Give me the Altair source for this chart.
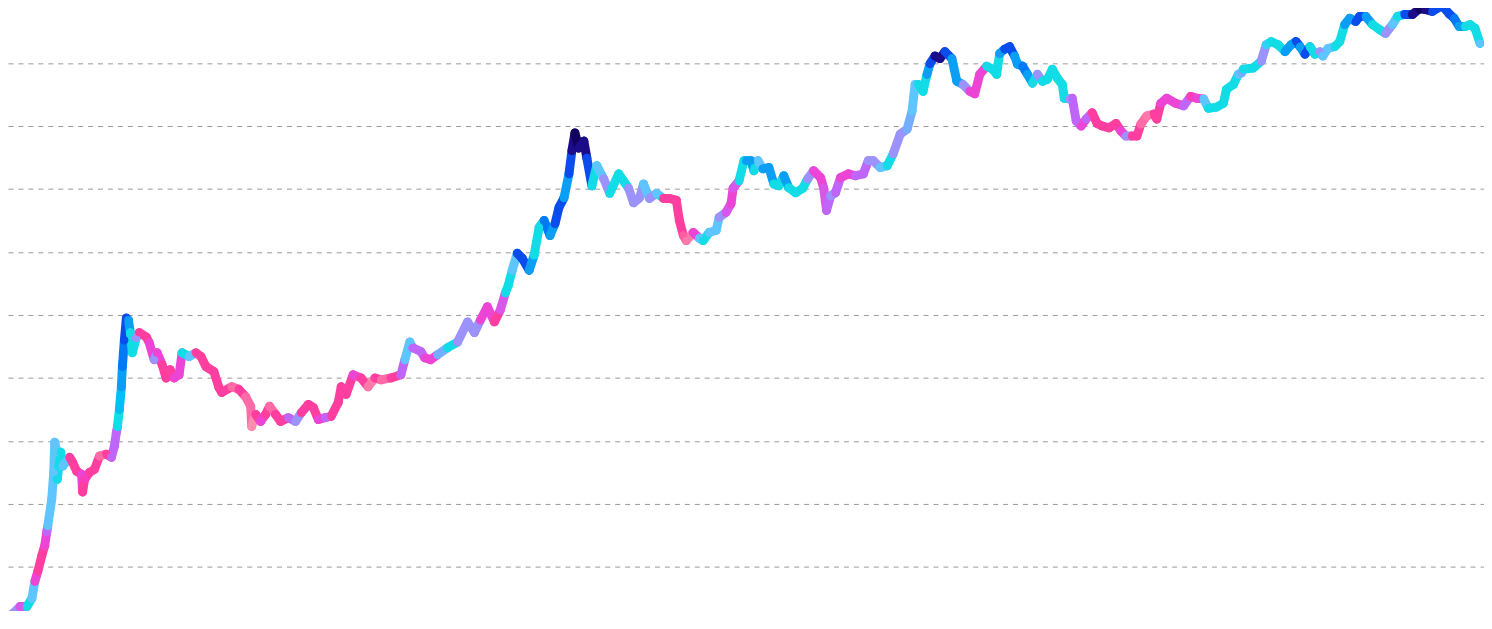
import altair as alt
import pandas as pd

# time index (horizontal position units) of each reading
t = [0, 7, 13, 20, 27, 32, 35, 38, 42, 45, 47, 48, 52, 54, 55, 57, 57.5, 61, 63, 70,
     73, 77, 82, 83, 85, 90, 95, 100, 107, 112, 115, 117, 118, 120, 122, 123, 125, 127, 129, 131,
     133, 137, 140, 147, 150, 155, 158, 163, 167, 171, 175, 180, 183, 190, 197, 202, 207, 215, 220, 223,
     233, 240, 247, 252, 253, 257, 262, 267, 271, 277, 282, 290, 297, 303, 310, 315, 320, 327, 333, 340,
     343, 348, 355, 363, 370, 377, 383, 393, 403, 407, 412, 415, 423, 427, 433, 440, 450, 460, 470, 477,
     483, 490, 497, 503, 508, 511, 515, 520, 525, 532, 537, 542, 547, 553, 558, 562, 567, 572, 575, 578,
     582, 587, 590, 595, 600, 607, 613, 622, 632, 637, 643, 647, 653, 660, 667, 673, 680, 683, 687, 690,
     697, 703, 707, 713, 720, 723, 730, 735, 737, 743, 748, 750, 755, 758, 762, 767, 773, 778, 783, 788,
     793, 800, 807, 812, 818, 825, 828, 831, 835, 840, 845, 853, 860, 868, 873, 878, 885, 892, 898, 905,
     912, 917, 920, 923, 928, 932, 935, 940, 945, 950, 957, 962, 968, 975, 980, 985, 992, 998, 1002, 1005,
     1010, 1015, 1020, 1023, 1028, 1033, 1038, 1043, 1048, 1053, 1058, 1063, 1068, 1070, 1075, 1078, 1082, 1087, 1092, 1098,
     1103, 1108, 1115, 1122, 1127, 1132, 1138, 1143, 1147, 1153, 1160, 1163, 1167, 1173, 1182, 1190, 1197, 1203, 1210, 1215,
     1223, 1230, 1233, 1240, 1245, 1248, 1250, 1260, 1268, 1273, 1278, 1285, 1292, 1298, 1303, 1307, 1312, 1317, 1322, 1327,
     1330, 1335, 1342, 1347, 1352, 1357, 1363, 1367, 1373, 1380, 1387, 1393, 1400, 1405, 1412, 1420, 1427, 1433, 1440, 1450,
     1457, 1462, 1467, 1473, 1478, 1483, 1488]

# level readings (one unit = one grid line step)
v = [-0.69, -0.86, -0.74, -0.63, -0.63, -0.50, -0.23, -0.07, 0.18, 0.34, 0.56, 0.65, 1.08, 1.50, 1.98, 1.82, 1.39, 1.82, 1.60, 1.74,
     1.66, 1.52, 1.47, 1.19, 1.39, 1.50, 1.55, 1.76, 1.79, 1.74, 1.92, 2.14, 2.22, 2.50, 2.86, 3.18, 3.60, 3.95, 3.92, 3.72,
     3.40, 3.64, 3.72, 3.65, 3.56, 3.29, 3.40, 3.21, 3.00, 3.13, 3.00, 3.05, 3.40, 3.34, 3.40, 3.34, 3.18, 3.10, 2.85, 2.77,
     2.86, 2.82, 2.70, 2.55, 2.23, 2.42, 2.31, 2.42, 2.55, 2.42, 2.31, 2.37, 2.31, 2.45, 2.58, 2.53, 2.34, 2.37, 2.39, 2.61,
     2.86, 2.74, 3.05, 3.00, 2.86, 3.00, 2.97, 3.00, 3.05, 3.29, 3.57, 3.48, 3.42, 3.32, 3.29, 3.37, 3.48, 3.57, 3.89, 3.72,
     3.92, 4.13, 3.89, 4.08, 4.35, 4.47, 4.71, 4.98, 4.90, 4.71, 4.95, 5.39, 5.50, 5.26, 5.45, 5.71, 5.86, 6.24, 6.61, 6.89,
     6.65, 6.76, 6.49, 6.05, 6.37, 6.16, 5.93, 6.24, 6.01, 5.78, 5.86, 6.08, 5.85, 5.93, 5.85, 5.85, 5.82, 5.50, 5.26, 5.18,
     5.31, 5.22, 5.18, 5.31, 5.34, 5.55, 5.63, 5.77, 6.01, 6.13, 6.45, 6.45, 6.45, 6.29, 6.45, 6.32, 6.34, 6.08, 6.05, 6.21,
     6.02, 5.94, 6.01, 6.16, 6.29, 6.18, 6.02, 5.66, 5.89, 5.94, 6.18, 6.24, 6.21, 6.24, 6.45, 6.45, 6.34, 6.37, 6.56, 6.87,
     6.95, 7.24, 7.66, 7.66, 7.55, 7.82, 7.99, 8.11, 8.07, 8.18, 8.07, 7.71, 7.66, 7.55, 7.51, 7.82, 7.95, 7.90, 7.82, 8.15,
     8.22, 8.26, 8.11, 7.98, 7.95, 7.82, 7.68, 7.82, 7.71, 7.74, 7.90, 7.76, 7.66, 7.44, 7.43, 7.44, 7.08, 7.00, 7.11, 7.21,
     7.04, 7.00, 6.97, 7.04, 6.92, 6.84, 6.84, 6.84, 7.03, 7.16, 7.19, 7.11, 7.36, 7.44, 7.36, 7.32, 7.47, 7.44, 7.43, 7.28,
     7.30, 7.36, 7.58, 7.66, 7.82, 7.84, 7.90, 7.92, 8.03, 8.29, 8.34, 8.29, 8.18, 8.29, 8.34, 8.26, 8.14, 8.26, 8.14, 8.18,
     8.11, 8.23, 8.26, 8.34, 8.61, 8.71, 8.66, 8.74, 8.74, 8.61, 8.53, 8.47, 8.61, 8.74, 8.77, 8.77, 8.86, 8.85, 8.82, 8.91,
     8.78, 8.71, 8.58, 8.58, 8.61, 8.55, 8.31]

# colour metric readings (0 = light pink ... 9 = deep navy)
c = [5, 4, 4, 2.5, 6, 5, 2, 1, 1, 2, 3, 5, 5, 5, 5, 5, 6, 6, 5, 1,
     1, 1, 2, 1, 1.5, 1, 1, 0.5, 1, 3, 3, 3, 6, 6.5, 7, 7.5, 8, 8, 7, 6,
     6, 4, 1, 1, 2, 4, 2, 1, 1, 1, 2, 2, 6, 5, 1, 1, 1, 1, 1, 1,
     0.5, 1, 0.5, 0.5, 0, 1, 2, 1, 0.5, 1, 1, 3, 4, 1, 1, 1, 2, 3, 1, 1,
     1, 1, 2, 1, 0.3, 1, 0.5, 1, 3, 5, 5, 3, 3, 2, 2, 4.5, 6, 4, 4, 4,
     2, 2, 1, 2.5, 6, 6, 5, 8, 8, 7, 6, 6, 7.5, 7, 8, 8, 7, 8, 9, 9.5,
     9, 9, 8, 6, 5, 4, 6, 6, 4, 4, 4, 5, 4, 5, 1, 1, 1, 1, 0.7, 0.3,
     2, 5, 6, 5, 5, 4, 2.5, 2, 2.5, 6, 6, 7, 7, 6, 5, 7, 7, 6, 6, 7,
     6, 6, 6, 4, 2, 2, 2.5, 3, 4, 3, 2, 2, 3, 3, 4, 4, 5, 6, 4, 4,
     4.5, 5, 5, 6, 6, 7, 8, 9, 9, 8, 7, 7, 4, 2, 2, 2, 6, 6, 6, 7,
     8, 8, 7, 7, 7.5, 7, 6, 4, 6, 6, 6, 6, 6, 6, 4, 3, 3, 2, 3, 1,
     1, 1, 1, 1, 2, 4, 1, 1, 0.5, 0.3, 1, 1, 2, 2, 2, 3, 1.5, 2, 5, 6,
     6, 6, 6, 6, 5, 4.5, 6, 6, 4, 5.5, 6, 6, 7, 7, 8, 7, 8, 6, 6, 4,
     5, 5, 6, 6, 7, 7, 8, 8, 7, 6, 6, 4, 5, 6, 8, 9, 9.5, 9, 8, 8,
     8, 7.5, 7, 6, 6, 6, 5]

color_stops = [0, 1, 2, 3, 4, 5, 6, 7, 8, 9]
palette = ["#ff8db0", "#ff3fa0", "#ec45d6", "#c065fa", "#9b92fb",
           "#5ec5ff", "#12dce6", "#0a9ef4", "#0a4cec", "#1c0c8a"]
grid_levels = [0, 1, 2, 3, 4, 5, 6, 7, 8]

seg = pd.DataFrame({"t": t[:-1], "v": v[:-1], "t2": t[1:], "v2": v[1:], "c": c[:-1]})
pts = pd.DataFrame({"t": t, "v": v, "c": c})

W, H = 1484, 603
step = 63.33
vmax = 560.3 / step
vmin = vmax - H / step

xs = alt.Scale(domain=[8, 1492], nice=False, zero=False)
ys = alt.Scale(domain=[vmin, vmax], nice=False, zero=False)
cs = alt.Scale(domain=color_stops, range=palette)

yaxis = alt.Axis(values=grid_levels, grid=True, gridDash=[5, 5], gridColor="#999999",
                 gridWidth=1, labels=False, ticks=False, domain=False, title=None)

segs = alt.Chart(seg).mark_rule(strokeWidth=9, strokeCap="round").encode(
    x=alt.X("t:Q", scale=xs, axis=None),
    y=alt.Y("v:Q", scale=ys, axis=yaxis),
    x2="t2:Q",
    y2="v2:Q",
    color=alt.Color("c:Q", scale=cs, legend=None),
)

dots = alt.Chart(pts).mark_circle(size=64, opacity=1).encode(
    x=alt.X("t:Q", scale=xs, axis=None),
    y=alt.Y("v:Q", scale=ys, axis=yaxis),
    color=alt.Color("c:Q", scale=cs, legend=None),
)

chart = alt.layer(segs, dots).properties(
    width=W, height=H, padding=0,
    autosize=alt.AutoSizeParams(type="none"),
    background="white",
).configure_view(stroke=None)

chart.save("out.html", embed_options={"renderer": "svg", "actions": False})
